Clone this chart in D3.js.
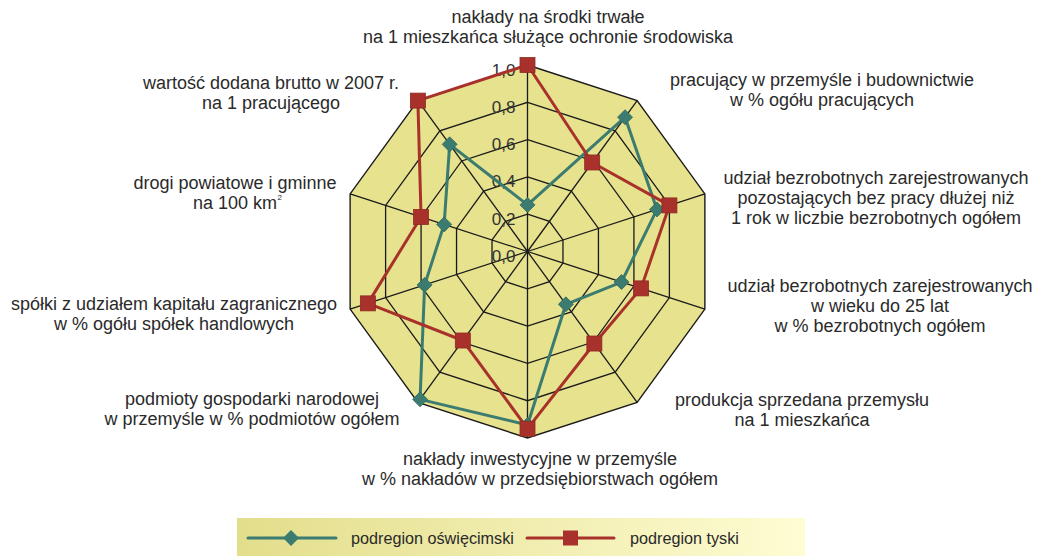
<!DOCTYPE html>
<html>
<head>
<meta charset="utf-8">
<script src="https://cdn.jsdelivr.net/npm/d3@7"></script>
<style>
  html, body { margin: 0; padding: 0; background: #fff; }
  svg { display: block; font-family: "Liberation Sans", Arial, sans-serif; }
</style>
</head>
<body>
<svg id="chart" width="1046" height="557"></svg>
<script>
// Indicator names (one per axis, clockwise from the top), split into lines
const indicators = [
  ["nakłady na środki trwałe", "na 1 mieszkańca służące ochronie środowiska"],
  ["pracujący w przemyśle i budownictwie", "w % ogółu pracujących"],
  ["udział bezrobotnych zarejestrowanych", "pozostających bez pracy dłużej niż", "1 rok w liczbie bezrobotnych ogółem"],
  ["udział bezrobotnych zarejestrowanych", "w wieku do 25 lat", "w % bezrobotnych  ogółem"],
  ["produkcja sprzedana przemysłu", "na 1 mieszkańca"],
  ["nakłady inwestycyjne w przemyśle", "w % nakładów w przedsiębiorstwach ogółem"],
  ["podmioty gospodarki narodowej", "w przemyśle w % podmiotów ogółem"],
  ["spółki z udziałem kapitału zagranicznego", "w % ogółu spółek handlowych"],
  ["drogi powiatowe i gminne", "na 100 km"],
  ["wartość dodana brutto w 2007 r.", "na 1 pracującego"]
];

const seriesNames = ["podregion oświęcimski", "podregion tyski"];
const oswiecimski = [0.25, 0.89, 0.73, 0.53, 0.35, 0.93, 0.98, 0.58, 0.47, 0.71];
const tyski       = [1.00, 0.59, 0.80, 0.64, 0.61, 0.95, 0.59, 0.90, 0.60, 1.00];

const ticks = [0, 0.2, 0.4, 0.6, 0.8, 1.0];
const tickLabels = ["0,0", "0,2", "0,4", "0,6", "0,8", "1,0"];

// label anchor points (centre x, first-line centre y) around the web
const labelPos = [
  [548, 17], [822, 80], [876, 178], [880, 286], [802, 400],
  [540, 459], [252, 399], [174, 304], [235, 183], [271, 83]
];

const colors = { teal: "#3b7b70", red: "#a8322b", fill: "#e6e28d", grid: "#1a1a1a", text: "#2a2a2a" };

const svg = d3.select("#chart");
const cx = 527.5, cy = 251.5, R = 186.5;
const n = indicators.length;

const r = d3.scaleLinear().domain([0, 1]).range([0, R]);
const angle = d3.scaleLinear().domain([0, n]).range([0, 2 * Math.PI]);

const pt = (i, v) => [cx + r(v) * Math.sin(angle(i)), cy - r(v) * Math.cos(angle(i))];

const g = svg.append("g");

// outer filled decagon
const ringPath = v => d3.line()(d3.range(n).map(i => pt(i, v))) + "Z";
g.append("path").attr("d", ringPath(1)).attr("fill", colors.fill)
  .attr("stroke", colors.grid).attr("stroke-width", 1.4);

// inner rings
g.selectAll(".ring").data(ticks.filter(t => t > 0 && t < 1)).join("path")
  .attr("d", d => ringPath(d)).attr("fill", "none")
  .attr("stroke", colors.grid).attr("stroke-width", 1.3);

// spokes
g.selectAll(".spoke").data(d3.range(n)).join("line")
  .attr("x1", cx).attr("y1", cy)
  .attr("x2", i => pt(i, 1)[0]).attr("y2", i => pt(i, 1)[1])
  .attr("stroke", colors.grid).attr("stroke-width", 1.3);

// radial tick labels along the top axis
g.selectAll(".tick").data(ticks).join("text")
  .attr("x", cx - 12).attr("y", d => cy - r(d) + 5)
  .attr("text-anchor", "end").attr("dominant-baseline", "central")
  .attr("font-size", 17).attr("fill", "#333")
  .text((d, i) => tickLabels[i]);

// series lines
const drawSeries = (vals, color) => {
  g.append("path")
    .attr("d", d3.line()(vals.map((v, i) => pt(i, v))) + "Z")
    .attr("fill", "none").attr("stroke", color).attr("stroke-width", 3)
    .attr("stroke-linejoin", "round");
};
drawSeries(oswiecimski, colors.teal);
drawSeries(tyski, colors.red);

// markers
const diamond = (x, y, s) => `M${x},${y - s}L${x + s},${y}L${x},${y + s}L${x - s},${y}Z`;
g.selectAll(".dm").data(oswiecimski).join("path")
  .attr("d", (v, i) => { const p = pt(i, v); return diamond(p[0], p[1], 7.5); })
  .attr("fill", colors.teal).attr("stroke", "#2f6a60").attr("stroke-width", 0.8);
g.selectAll(".sq").data(tyski).join("rect")
  .attr("x", (v, i) => pt(i, v)[0] - 7.5).attr("y", (v, i) => pt(i, v)[1] - 7.5)
  .attr("width", 15).attr("height", 15)
  .attr("fill", colors.red).attr("stroke", "#8e2a23").attr("stroke-width", 0.8);

// axis labels
const lab = svg.append("g").attr("font-size", 18).attr("fill", colors.text).attr("text-anchor", "middle");
indicators.forEach((lines, i) => {
  const t = lab.append("text").attr("x", labelPos[i][0]).attr("y", labelPos[i][1])
    .attr("dominant-baseline", "central");
  lines.forEach((line, k) => {
    t.append("tspan").attr("x", labelPos[i][0]).attr("dy", k === 0 ? 0 : 20).text(line);
  });
});
// superscript "2" of km²
const roadsLine = lab.selectAll("text").filter((d, i) => i === 8).select("tspan:last-child").node();
const bb = roadsLine.getBBox();
lab.append("text").attr("x", bb.x + bb.width + 0.5).attr("y", labelPos[8][1] + 14)
  .attr("text-anchor", "start").attr("dominant-baseline", "central")
  .attr("font-size", 8).text("2");

// legend
const defs = svg.append("defs");
const grad = defs.append("linearGradient").attr("id", "lg").attr("x1", 0).attr("x2", 1);
grad.append("stop").attr("offset", 0).attr("stop-color", "#e3de8b");
grad.append("stop").attr("offset", 1).attr("stop-color", "#fefcd3");
const lg = svg.append("g");
lg.append("rect").attr("x", 237).attr("y", 518).attr("width", 568).attr("height", 38).attr("fill", "url(#lg)");
const ly = 538;
lg.append("line").attr("x1", 248).attr("x2", 336).attr("y1", ly).attr("y2", ly)
  .attr("stroke", colors.teal).attr("stroke-width", 3).attr("stroke-linecap", "round");
lg.append("path").attr("d", diamond(291, ly, 8)).attr("fill", colors.teal);
lg.append("text").attr("x", 351).attr("y", ly).attr("dominant-baseline", "central")
  .attr("font-size", 16.2).attr("fill", colors.text).text(seriesNames[0]);
lg.append("line").attr("x1", 527).attr("x2", 614).attr("y1", ly).attr("y2", ly)
  .attr("stroke", colors.red).attr("stroke-width", 3).attr("stroke-linecap", "round");
lg.append("rect").attr("x", 563).attr("y", ly - 7.5).attr("width", 15).attr("height", 15).attr("fill", colors.red);
lg.append("text").attr("x", 630).attr("y", ly).attr("dominant-baseline", "central")
  .attr("font-size", 16.2).attr("fill", colors.text).text(seriesNames[1]);
</script>
</body>
</html>
